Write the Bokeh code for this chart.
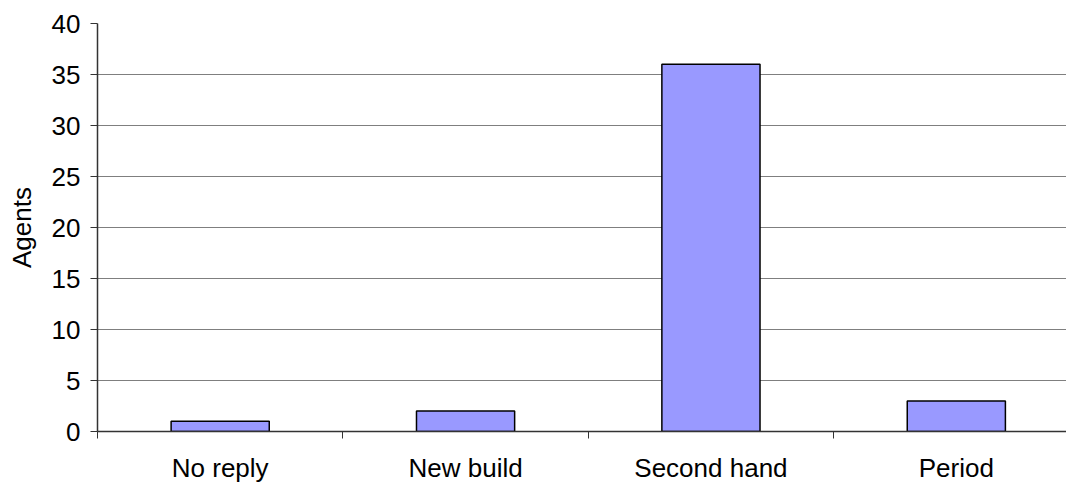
from bokeh.plotting import figure
from bokeh.models import Range1d, FixedTicker, ColumnDataSource
from bokeh.embed import file_html
from bokeh.resources import INLINE

categories = ["No reply", "New build", "Second hand", "Period"]
agents = [1, 2, 36, 3]
y_ticks = [0, 5, 10, 15, 20, 25, 30, 35, 40]

xs = list(range(len(categories)))
src = ColumnDataSource(dict(x=xs, top=agents))

p = figure(width=1066, height=485, output_backend="svg", toolbar_location=None,
           x_range=Range1d(-0.5, 3.449), y_range=Range1d(0, 40),
           min_border_left=97, min_border_right=0, min_border_top=23, min_border_bottom=54)
p.frame_width = 969
p.frame_height = 408
p.outline_line_color = None
p.background_fill_color = "white"
p.border_fill_color = "white"

p.vbar(x="x", top="top", width=0.4, bottom=0, source=src,
       fill_color="#9999FF", line_color="black", line_width=1.5)

FONT = "Liberation Sans"

# x axis
p.xaxis.ticker = FixedTicker(ticks=xs, minor_ticks=[i - 0.5 for i in range(len(categories) + 1)])
p.xaxis.major_label_overrides = {i: c for i, c in enumerate(categories)}
p.xaxis.major_tick_line_color = None
p.xaxis.minor_tick_line_color = "#333333"
p.xaxis.minor_tick_out = 7
p.xaxis.minor_tick_in = 0
p.xaxis.major_label_standoff = 14
p.xaxis.major_label_text_font = FONT
p.xaxis.major_label_text_font_size = "26px"
p.xaxis.major_label_text_color = "black"
p.xaxis.axis_line_color = "#333333"
p.xaxis.axis_line_width = 1.5

# y axis
p.yaxis.ticker = FixedTicker(ticks=y_ticks)
p.yaxis.minor_tick_line_color = None
p.yaxis.major_tick_out = 7
p.yaxis.major_tick_in = 0
p.yaxis.major_tick_line_color = "#333333"
p.yaxis.major_label_standoff = 10
p.yaxis.major_label_text_font = FONT
p.yaxis.major_label_text_font_size = "26px"
p.yaxis.major_label_text_color = "black"
p.yaxis.axis_line_color = "#333333"
p.yaxis.axis_line_width = 1.5
p.yaxis.axis_label = "Agents"
p.yaxis.axis_label_text_font = FONT
p.yaxis.axis_label_text_font_size = "26px"
p.yaxis.axis_label_text_font_style = "normal"
p.yaxis.axis_label_text_color = "black"
p.yaxis.axis_label_standoff = 12

p.xgrid.grid_line_color = None
p.ygrid.ticker = FixedTicker(ticks=y_ticks)
p.ygrid.grid_line_color = "#7f7f7f"
p.ygrid.grid_line_width = 1

open("out.html", "w").write(file_html(p, INLINE))
